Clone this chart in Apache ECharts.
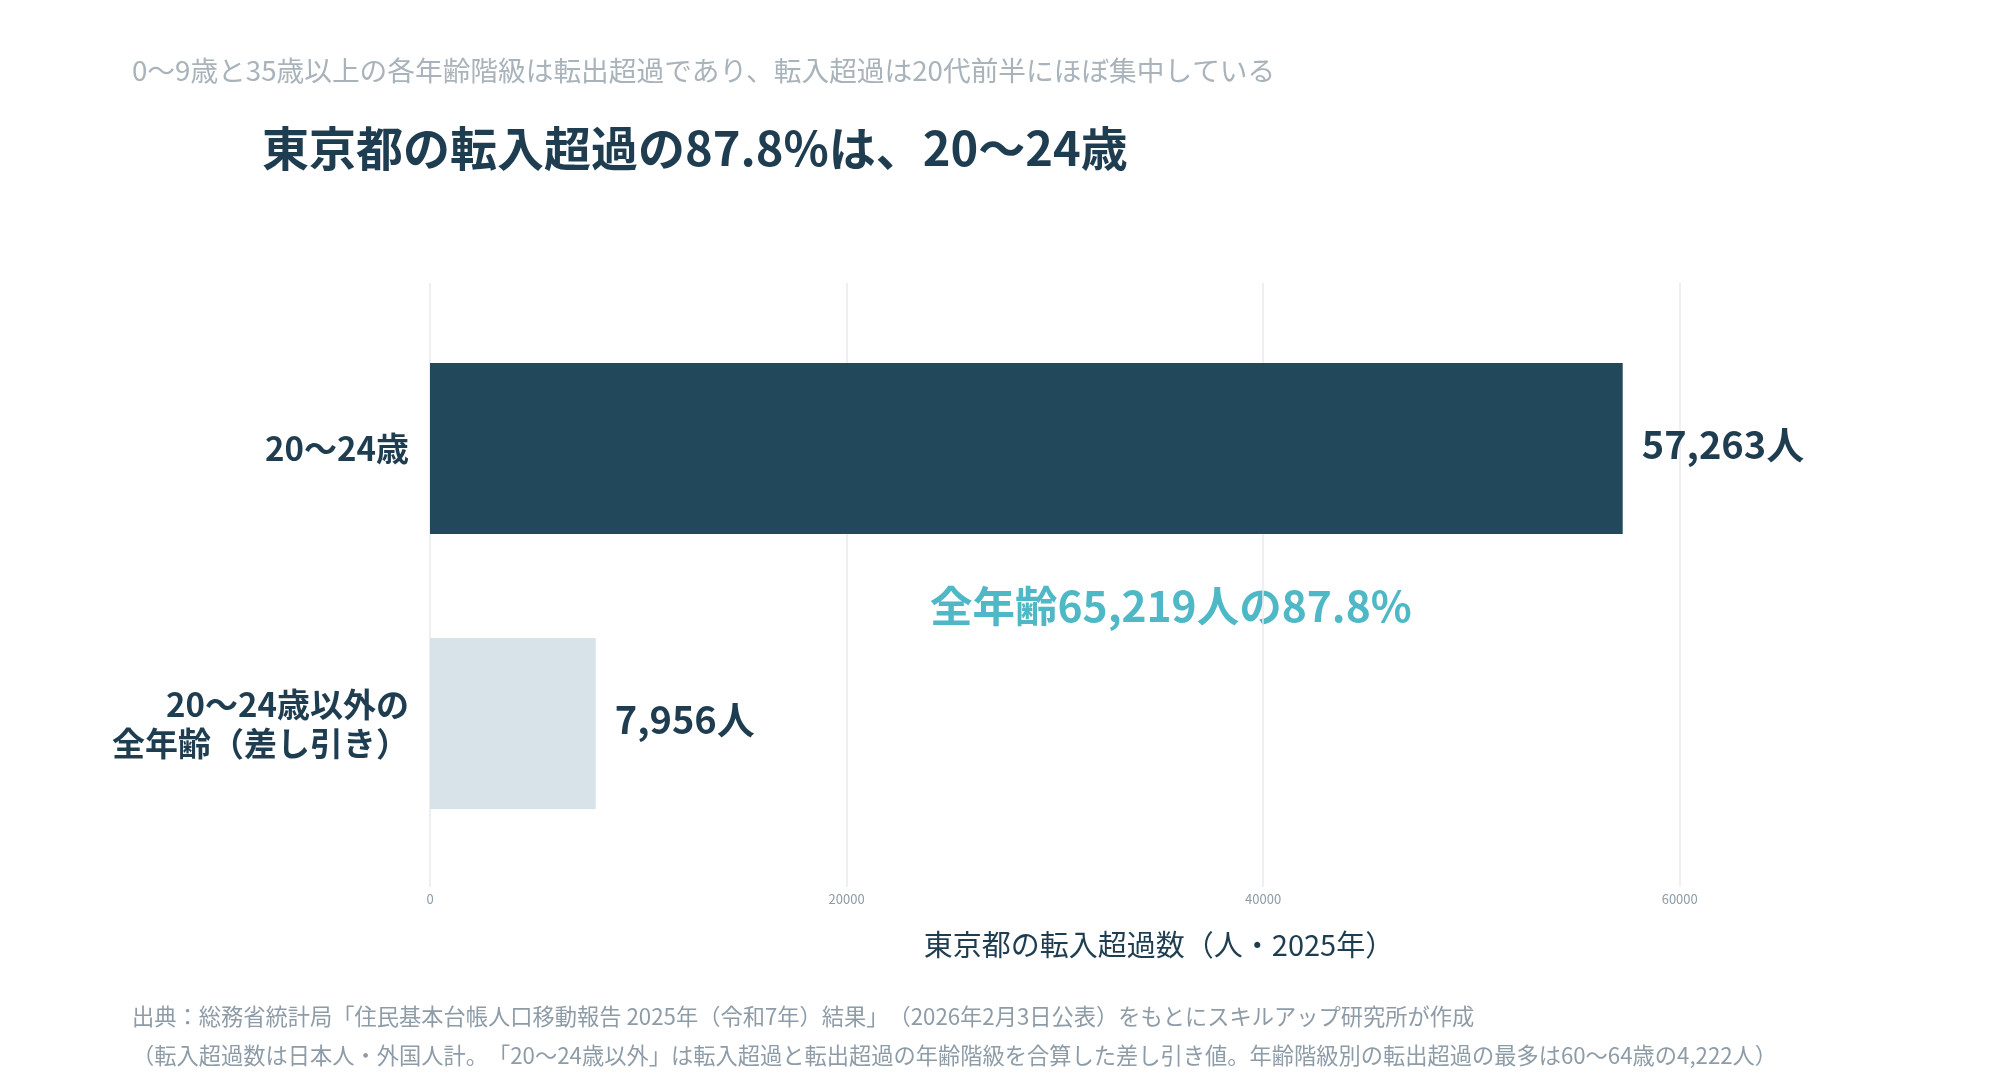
<!DOCTYPE html>
<html lang="ja">
<head>
    <meta charset="UTF-8">
    <title>東京都の転入超過</title>
    <script src="https://cdn.jsdelivr.net/npm/echarts@6/dist/echarts.min.js"></script>
    <style>
        html, body { margin: 0; padding: 0; background: #fff; }
        #main { width: 2000px; height: 1090px; text-spacing-trim: space-all; }
        #main canvas { text-spacing-trim: space-all; }
    </style>
</head>
<body>
<div id="main"></div>
<script>
    // データ
    var categories = ['20〜24歳', '20〜24歳以外の\n全年齢（差し引き）'];
    var values = [57263, 7956];
    var barColors = ['#22495b', '#d7e3e8'];
    var xTicks = [0, 20000, 40000, 60000];

    var navy = '#1f3d50';
    var font = '"Noto Sans CJK JP", "Noto Sans", sans-serif';

    var chart = echarts.init(document.getElementById('main'));

    chart.setOption({
        backgroundColor: '#ffffff',
        animation: false,
        textStyle: { fontFamily: font },
        title: [
            {
                text: '0〜9歳と35歳以上の各年齢階級は転出超過であり、転入超過は20代前半にほぼ集中している',
                left: 132, top: 57, padding: 0,
                textStyle: { fontSize: 27.7, fontWeight: 'normal', color: '#a9b3bb', fontFamily: font }
            },
            {
                text: '東京都の転入超過の87.8%は、20〜24歳',
                left: 262, top: 125, padding: 0,
                textStyle: { fontSize: 47, fontWeight: 'bold', color: navy, fontFamily: font }
            }
        ],
        // 目盛り線用と棒用の2つのグリッド
        grid: [
            { left: 430, right: 112, top: 283, bottom: 203 },
            { left: 430, right: 112, top: 311, bottom: 229 }
        ],
        xAxis: [
            {
                gridIndex: 0, type: 'value', min: 0, max: 70000, interval: 20000,
                axisLine: { show: false }, axisTick: { show: false },
                splitLine: { show: true, showMaxLine: false, lineStyle: { color: '#e7eaed', width: 1.5 } },
                axisLabel: {
                    showMaxLabel: false, margin: 6, fontSize: 13, color: '#8d9ba7',
                    formatter: function (v) { return xTicks.indexOf(v) >= 0 ? String(v) : ''; }
                },
                name: '東京都の転入超過数（人・2025年）',
                nameLocation: 'middle', nameGap: 43,
                nameTextStyle: { fontSize: 29, color: navy, fontFamily: font }
            },
            {
                gridIndex: 1, type: 'value', min: 0, max: 70000, show: false
            }
        ],
        yAxis: [
            { gridIndex: 0, type: 'value', show: false },
            {
                gridIndex: 1, type: 'category', data: categories, inverse: true,
                axisLine: { show: false }, axisTick: { show: false },
                axisLabel: {
                    margin: 21, fontSize: 33, fontWeight: 'bold', color: navy,
                    lineHeight: 39, align: 'right', fontFamily: font
                }
            }
        ],
        series: [{
            type: 'bar',
            xAxisIndex: 1, yAxisIndex: 1,
            barWidth: 171,
            data: values.map(function (v, i) {
                return { value: v, itemStyle: { color: barColors[i] } };
            }),
            label: {
                show: true, position: 'right', distance: 19, offset: [0, -4],
                fontSize: 38, fontWeight: 'bold', color: navy, fontFamily: font,
                formatter: function (p) { return p.value.toLocaleString('en-US') + '人'; }
            }
        }],
        graphic: [
            {
                type: 'text', left: 930, top: 585,
                style: {
                    text: '全年齢65,219人の87.8%',
                    font: 'bold 42.5px ' + font, fill: '#4fb8c6'
                }
            },
            {
                type: 'text', left: 132, top: 1005,
                style: {
                    text: '出典：総務省統計局「住民基本台帳人口移動報告 2025年（令和7年）結果」（2026年2月3日公表）をもとにスキルアップ研究所が作成',
                    font: '22.25px ' + font, fill: '#8e9ca8'
                }
            },
            {
                type: 'text', left: 132, top: 1044,
                style: {
                    text: '（転入超過数は日本人・外国人計。「20〜24歳以外」は転入超過と転出超過の年齢階級を合算した差し引き値。年齢階級別の転出超過の最多は60〜64歳の4,222人）',
                    font: '22.25px ' + font, fill: '#8e9ca8'
                }
            }
        ]
    });
</script>
</body>
</html>
